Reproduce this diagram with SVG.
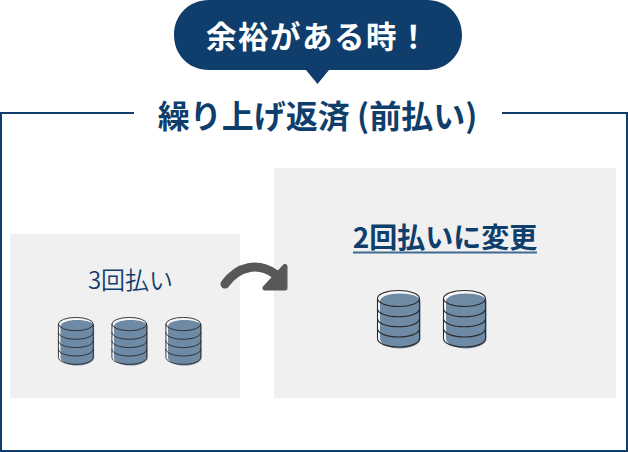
<svg xmlns="http://www.w3.org/2000/svg" width="628" height="452" viewBox="0 0 628 452">
<style>
.t{font-family:"Noto Sans CJK JP","Noto Sans",sans-serif;fill:#0f3e6c;text-anchor:middle}
.b{font-weight:700}
.panel{fill:#f0f0f0}
.ln{fill:none;stroke:#2a2a2a;stroke-width:1.1}
</style>
<defs>
<g id="coin">
<path d="M.5 8.500C.5 3.500 10 .5 21.500 .5S42.500 3.500 42.500 8.500V48.500C42.500 53.500 33 57 21.500 57S.5 53.500 .5 48.500Z" fill="#f7f7f7"/>
<path d="M3 11C3 6.500 12 3.500 23 3.500S43.500 6.500 43.500 11V49C43.500 54 34 58.500 23 58.500S3 54 3 49Z" fill="#6f8aa5"/>
<ellipse cx="21.500" cy="8.500" rx="21" ry="8" class="ln"/>
<path d="M.5 8.500V48.500C.5 53.500 10 57 21.500 57S42.500 53.500 42.500 48.500V8.500M.5 18.500C.5 23.500 10 26.800 21.500 26.800S42.500 23.500 42.500 18.500M.5 28.500C.5 33.500 10 36.800 21.500 36.800S42.500 33.500 42.500 28.500M.5 38.500C.5 43.500 10 47 21.500 47S42.500 43.500 42.500 38.500" class="ln"/>
</g>
</defs>
<g id="frame">
<path d="M134 113H1V451H627V113H502" fill="none" stroke="#0f3e6c" stroke-width="2"/>
<text x="317.500" y="127.500" font-size="32" class="t b">繰り上げ返済 (前払い)</text>
</g>
<g id="bubble">
<path d="M209 0H427C447 0 462 15 462 35S447 70 427 70H329L317.500 84L306 70H209C189 70 174 55 174 35S189 0 209 0Z" fill="#0f3e6c"/>
<text x="318" y="47.500" font-size="30.500" class="b" style="font-family:'Noto Sans CJK JP',sans-serif;fill:#fff;text-anchor:middle;letter-spacing:1.500px">余裕がある時！</text>
</g>
<g id="before">
<rect x="10" y="234" width="230" height="164" class="panel"/>
<text x="130.500" y="289" font-size="24" class="t" style="font-weight:350">3回払い</text>
<use href="#coin" transform="translate(58 317) scale(.83)"/>
<use href="#coin" transform="translate(111.500 317) scale(.83)"/>
<use href="#coin" transform="translate(165.500 317) scale(.83)"/>
</g>
<g id="after">
<rect x="274" y="168" width="342" height="230" class="panel"/>
<text x="445" y="248" font-size="28" class="t b">2回払いに変更</text>
<rect x="353" y="251.500" width="184" height="2" fill="#3f6a94"/>
<use href="#coin" transform="translate(377 290)"/>
<use href="#coin" transform="translate(443 290)"/>
</g>
<g id="connectors">
<path d="M225 284C238 266 258 262 275 274" fill="none" stroke="#595757" stroke-width="9" stroke-linecap="round"/>
<path d="M285 266.500V288H265Z" fill="#595757" stroke="#595757" stroke-width="5" stroke-linejoin="round"/>
</g>
</svg>
